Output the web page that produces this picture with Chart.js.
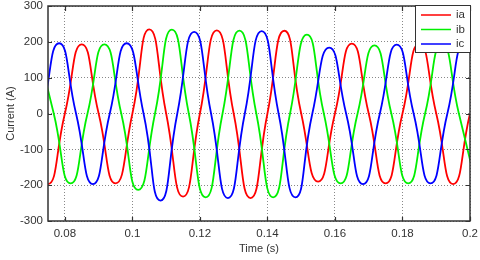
<!DOCTYPE html>
<html>
<head>
<meta charset="utf-8">
<script src="https://cdn.jsdelivr.net/npm/chart.js@4.4.1/dist/chart.umd.min.js"></script>
<style>
  html, body { margin: 0; padding: 0; background: #fff; }
  #wrap { width: 480px; height: 260px; }
</style>
</head>
<body>
<div id="wrap"><canvas id="chart"></canvas></div>
<script>
// phase a : peaks, troughs and zero crossings (s, A)
const tA = [0.070, 0.075, 0.080, 0.085, 0.090, 0.095, 0.100, 0.105, 0.110, 0.115,
            0.120, 0.125, 0.130, 0.135, 0.140, 0.145, 0.150, 0.155, 0.160, 0.165,
            0.170, 0.175, 0.180, 0.185, 0.190, 0.195, 0.200, 0.205];
const ia = [0, -197, 0, 193, 0, -195, 0, 235, 0, -232,
            0, 232, 0, -236, 0, 231, 0, -190, 0, 195,
            0, -195, 0, 195, 0, -197, 0, 195];

// phase b
const tB = [0.0717, 0.0767, 0.0817, 0.0867, 0.0917, 0.0967, 0.1017, 0.1067, 0.1117, 0.1167,
            0.1217, 0.1267, 0.1317, 0.1367, 0.1417, 0.1467, 0.1517, 0.1567, 0.1617, 0.1667,
            0.1717, 0.1767, 0.1817, 0.1867, 0.1917, 0.1967, 0.2017];
const ib = [193, 0, -195, 0, 193, 0, -213, 0, 234, 0,
            -234, 0, 231, 0, -234, 0, 220, 0, -195, 0,
            190, 0, -195, 0, 195, 0, -195];

// phase c
const tC = [0.0683, 0.0733, 0.0783, 0.0833, 0.0883, 0.0933, 0.0983, 0.1033, 0.1083, 0.1133,
            0.1183, 0.1233, 0.1283, 0.1333, 0.1383, 0.1433, 0.1483, 0.1533, 0.1583, 0.1633,
            0.1683, 0.1733, 0.1783, 0.1833, 0.1883, 0.1933, 0.1983, 0.2033];
const ic = [-195, 0, 196, 0, -197, 0, 196, 0, -243, 0,
            228, 0, -236, 0, 230, 0, -234, 0, 184, 0,
            -197, 0, 192, 0, -195, 0, 195, 0];

const seriesNames = ["ia", "ib", "ic"];
const seriesColors = ["#ff0000", "#00f000", "#0000ff"];

const xMin = 0.075, xMax = 0.2, xStep = 0.02;
const yMin = -300, yMax = 300, yStep = 100;

const font = "'Liberation Sans', Arial, sans-serif";
const textColor = "#333";

function toPoints(t, v) {
  return t.map((x, i) => ({ x: x, y: v[i] }));
}

// fixed scale box, no extra label padding pushed into the layout
function fixBox(size) {
  return (s) => {
    if (s.isHorizontal()) s.height = size; else s.width = size;
    s.paddingTop = 0; s.paddingBottom = 0; s.paddingLeft = 0; s.paddingRight = 0;
  };
}

// box, inward tick marks and the legend inside the plot (matlab look)
const frameAndLegend = {
  id: "frameAndLegend",
  afterDatasetsDraw(chart) {
    const { ctx, chartArea: a, scales } = chart;
    ctx.save();
    ctx.strokeStyle = "#333";
    ctx.lineWidth = 1.2;
    ctx.beginPath();
    scales.x.ticks.forEach((t) => {
      const px = Math.round(scales.x.getPixelForValue(t.value)) + 0.5;
      ctx.moveTo(px, a.top); ctx.lineTo(px, a.top + 5);
      ctx.moveTo(px, a.bottom); ctx.lineTo(px, a.bottom - 4);
    });
    scales.y.ticks.forEach((t) => {
      const py = Math.round(scales.y.getPixelForValue(t.value)) + 0.5;
      ctx.moveTo(a.left, py); ctx.lineTo(a.left + 4, py);
      ctx.moveTo(a.right, py); ctx.lineTo(a.right - 4, py);
    });
    ctx.stroke();
    ctx.lineWidth = 1.5;
    ctx.strokeRect(a.left, a.top, a.right - a.left, a.bottom - a.top);

    // legend
    const bw = 55, bh = 47;
    const bx = a.right - bw, by = a.top - 1;
    ctx.fillStyle = "#fff";
    ctx.fillRect(bx, by, bw, bh);
    ctx.lineWidth = 1;
    ctx.strokeStyle = "#333";
    ctx.strokeRect(bx + 0.5, by + 0.5, bw, bh);
    ctx.font = "11.5px " + font;
    ctx.textBaseline = "middle";
    chart.data.datasets.forEach((ds, i) => {
      const yy = by + 10 + i * 14.5;
      ctx.strokeStyle = ds.borderColor;
      ctx.lineWidth = 1.5;
      ctx.beginPath();
      ctx.moveTo(bx + 6, yy);
      ctx.lineTo(bx + 36, yy);
      ctx.stroke();
      ctx.fillStyle = textColor;
      ctx.fillText(ds.label, bx + 41, yy);
    });
    ctx.restore();
  },
};

const ctx = document.getElementById("chart").getContext("2d");
new Chart(ctx, {
  type: "line",
  data: {
    datasets: [
      { label: seriesNames[0], data: toPoints(tA, ia), borderColor: seriesColors[0], order: 3 },
      { label: seriesNames[1], data: toPoints(tB, ib), borderColor: seriesColors[1], order: 2 },
      { label: seriesNames[2], data: toPoints(tC, ic), borderColor: seriesColors[2], order: 1 },
    ],
  },
  options: {
    responsive: true,
    maintainAspectRatio: false,
    animation: false,
    parsing: false,
    layout: { autoPadding: false, padding: { top: 6, right: 10, left: 0, bottom: 0 } },
    elements: {
      point: { radius: 0 },
      line: { borderWidth: 1.8, tension: 0.55, capBezierPoints: false, fill: false },
    },
    plugins: {
      legend: { display: false },
      tooltip: { enabled: false },
    },
    scales: {
      x: {
        type: "linear",
        min: xMin,
        max: xMax,
        ticks: {
          stepSize: xStep,
          includeBounds: false,
          padding: 6,
          color: textColor,
          font: { family: font, size: 11.5 },
          maxRotation: 0,
          callback: (v) => String(+v.toFixed(3)), // 0.1 not 0.10
        },
        grid: { color: "#888", lineWidth: 1, drawTicks: false },
        border: { display: false, dash: [1, 2] },
        title: { display: true, text: "Time (s)", color: textColor, font: { family: font, size: 11 } },
        afterFit: fixBox(39),
      },
      y: {
        min: yMin,
        max: yMax,
        ticks: {
          stepSize: yStep,
          padding: 5,
          color: textColor,
          font: { family: font, size: 11.5 },
        },
        grid: { color: "#888", lineWidth: 1, drawTicks: false },
        border: { display: false, dash: [1, 2] },
        title: { display: true, text: "Current (A)", color: textColor, font: { family: font, size: 11 } },
        afterFit: fixBox(48),
      },
    },
  },
  plugins: [frameAndLegend],
});
</script>
</body>
</html>
